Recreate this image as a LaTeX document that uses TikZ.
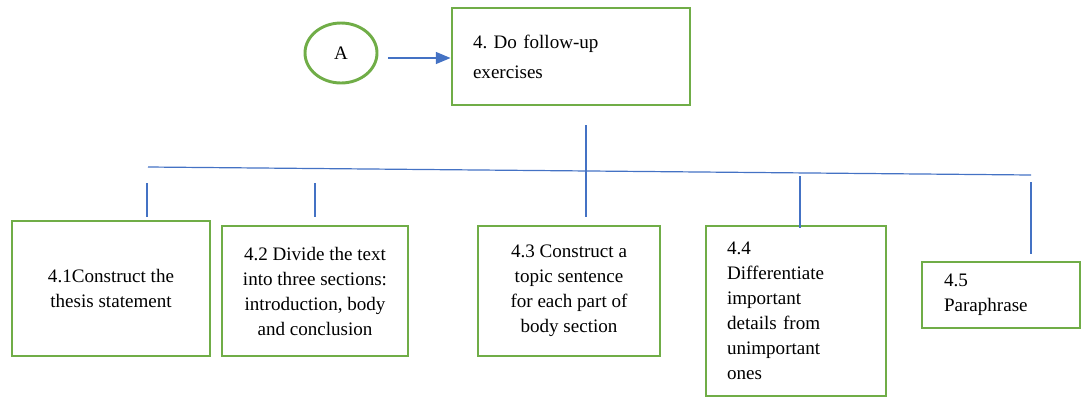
\documentclass[tikz,border=0pt]{standalone}
\usepackage{fontspec}
\setmainfont{Liberation Serif}
\usetikzlibrary{arrows.meta,shapes.geometric}
\definecolor{boxgreen}{RGB}{112,173,71}
\definecolor{linkblue}{RGB}{68,114,196}
\tikzset{every picture/.style={line width=0.75pt}}
\frenchspacing
\begin{document}
\begin{tikzpicture}[x=0.75pt,y=0.75pt,yscale=-1,xscale=1,
  stepbox/.style={draw=boxgreen, line width=2.2pt, inner sep=0pt, font=\fontsize{14.3}{18.75}\selectfont},
  busline/.style={draw=linkblue, line width=0.9pt}]
\path[use as bounding box] (0,0) rectangle (1082,397);

% Start marker
\node (circA) [stepbox, ellipse, minimum width=54pt, minimum height=45pt] at (341,53) {A};
% Main step
\node (step4) [stepbox, minimum width=178.5pt, minimum height=72.75pt, text width=147pt, align=left, font=\fontsize{14.3}{22.5}\selectfont] at (571,56.5) {4. Do follow-up\\exercises};
% Sub steps
\node (step41) [stepbox, minimum width=148.5pt, minimum height=101.25pt, align=center] at (111,288.5) {4.1Construct the\\thesis statement};
\node (step42) [stepbox, minimum width=139.5pt, minimum height=97.5pt, align=center] at (315,291) {4.2 Divide the text\\into three sections:\\introduction, body\\and conclusion};
\node (step43) [stepbox, minimum width=136.5pt, minimum height=97.5pt, align=center] at (569,291) {4.3 Construct a\\topic sentence\\for each part of\\body section};
\node (step44) [stepbox, minimum width=135pt, minimum height=127.5pt, text width=103.5pt, align=left] at (796,311) {4.4\\Differentiate\\important\\details from\\unimportant\\ones};
\node (step45) [stepbox, minimum width=118.5pt, minimum height=49.5pt, text width=85.5pt, align=left] at (1001,295) {4.5\\Paraphrase};

% Bus line and ticks
\coordinate (busL) at (148,167);
\coordinate (busR) at (1031,175);
\coordinate (stem) at (586,125);
\coordinate (tick41) at (147,183);
\coordinate (tick42) at (315,183);
\coordinate (tick44) at (800,176);
\coordinate (tick45) at (1031,182);

\draw[-{Triangle[length=11pt,width=9pt]}, draw=linkblue, fill=linkblue, line width=0.9pt] ([xshift=7pt]circA.east |- 0,58) -- (step4.west |- 0,58);
\draw[busline] (busL) -- (busR);
\draw[busline] (stem) -- ++(0,92);
\draw[busline] (tick41) -- ++(0,34);
\draw[busline] (tick42) -- ++(0,34);
\draw[busline] (tick44) -- ++(0,52);
\draw[busline] (tick45) -- ++(0,72);

\end{tikzpicture}
\end{document}
